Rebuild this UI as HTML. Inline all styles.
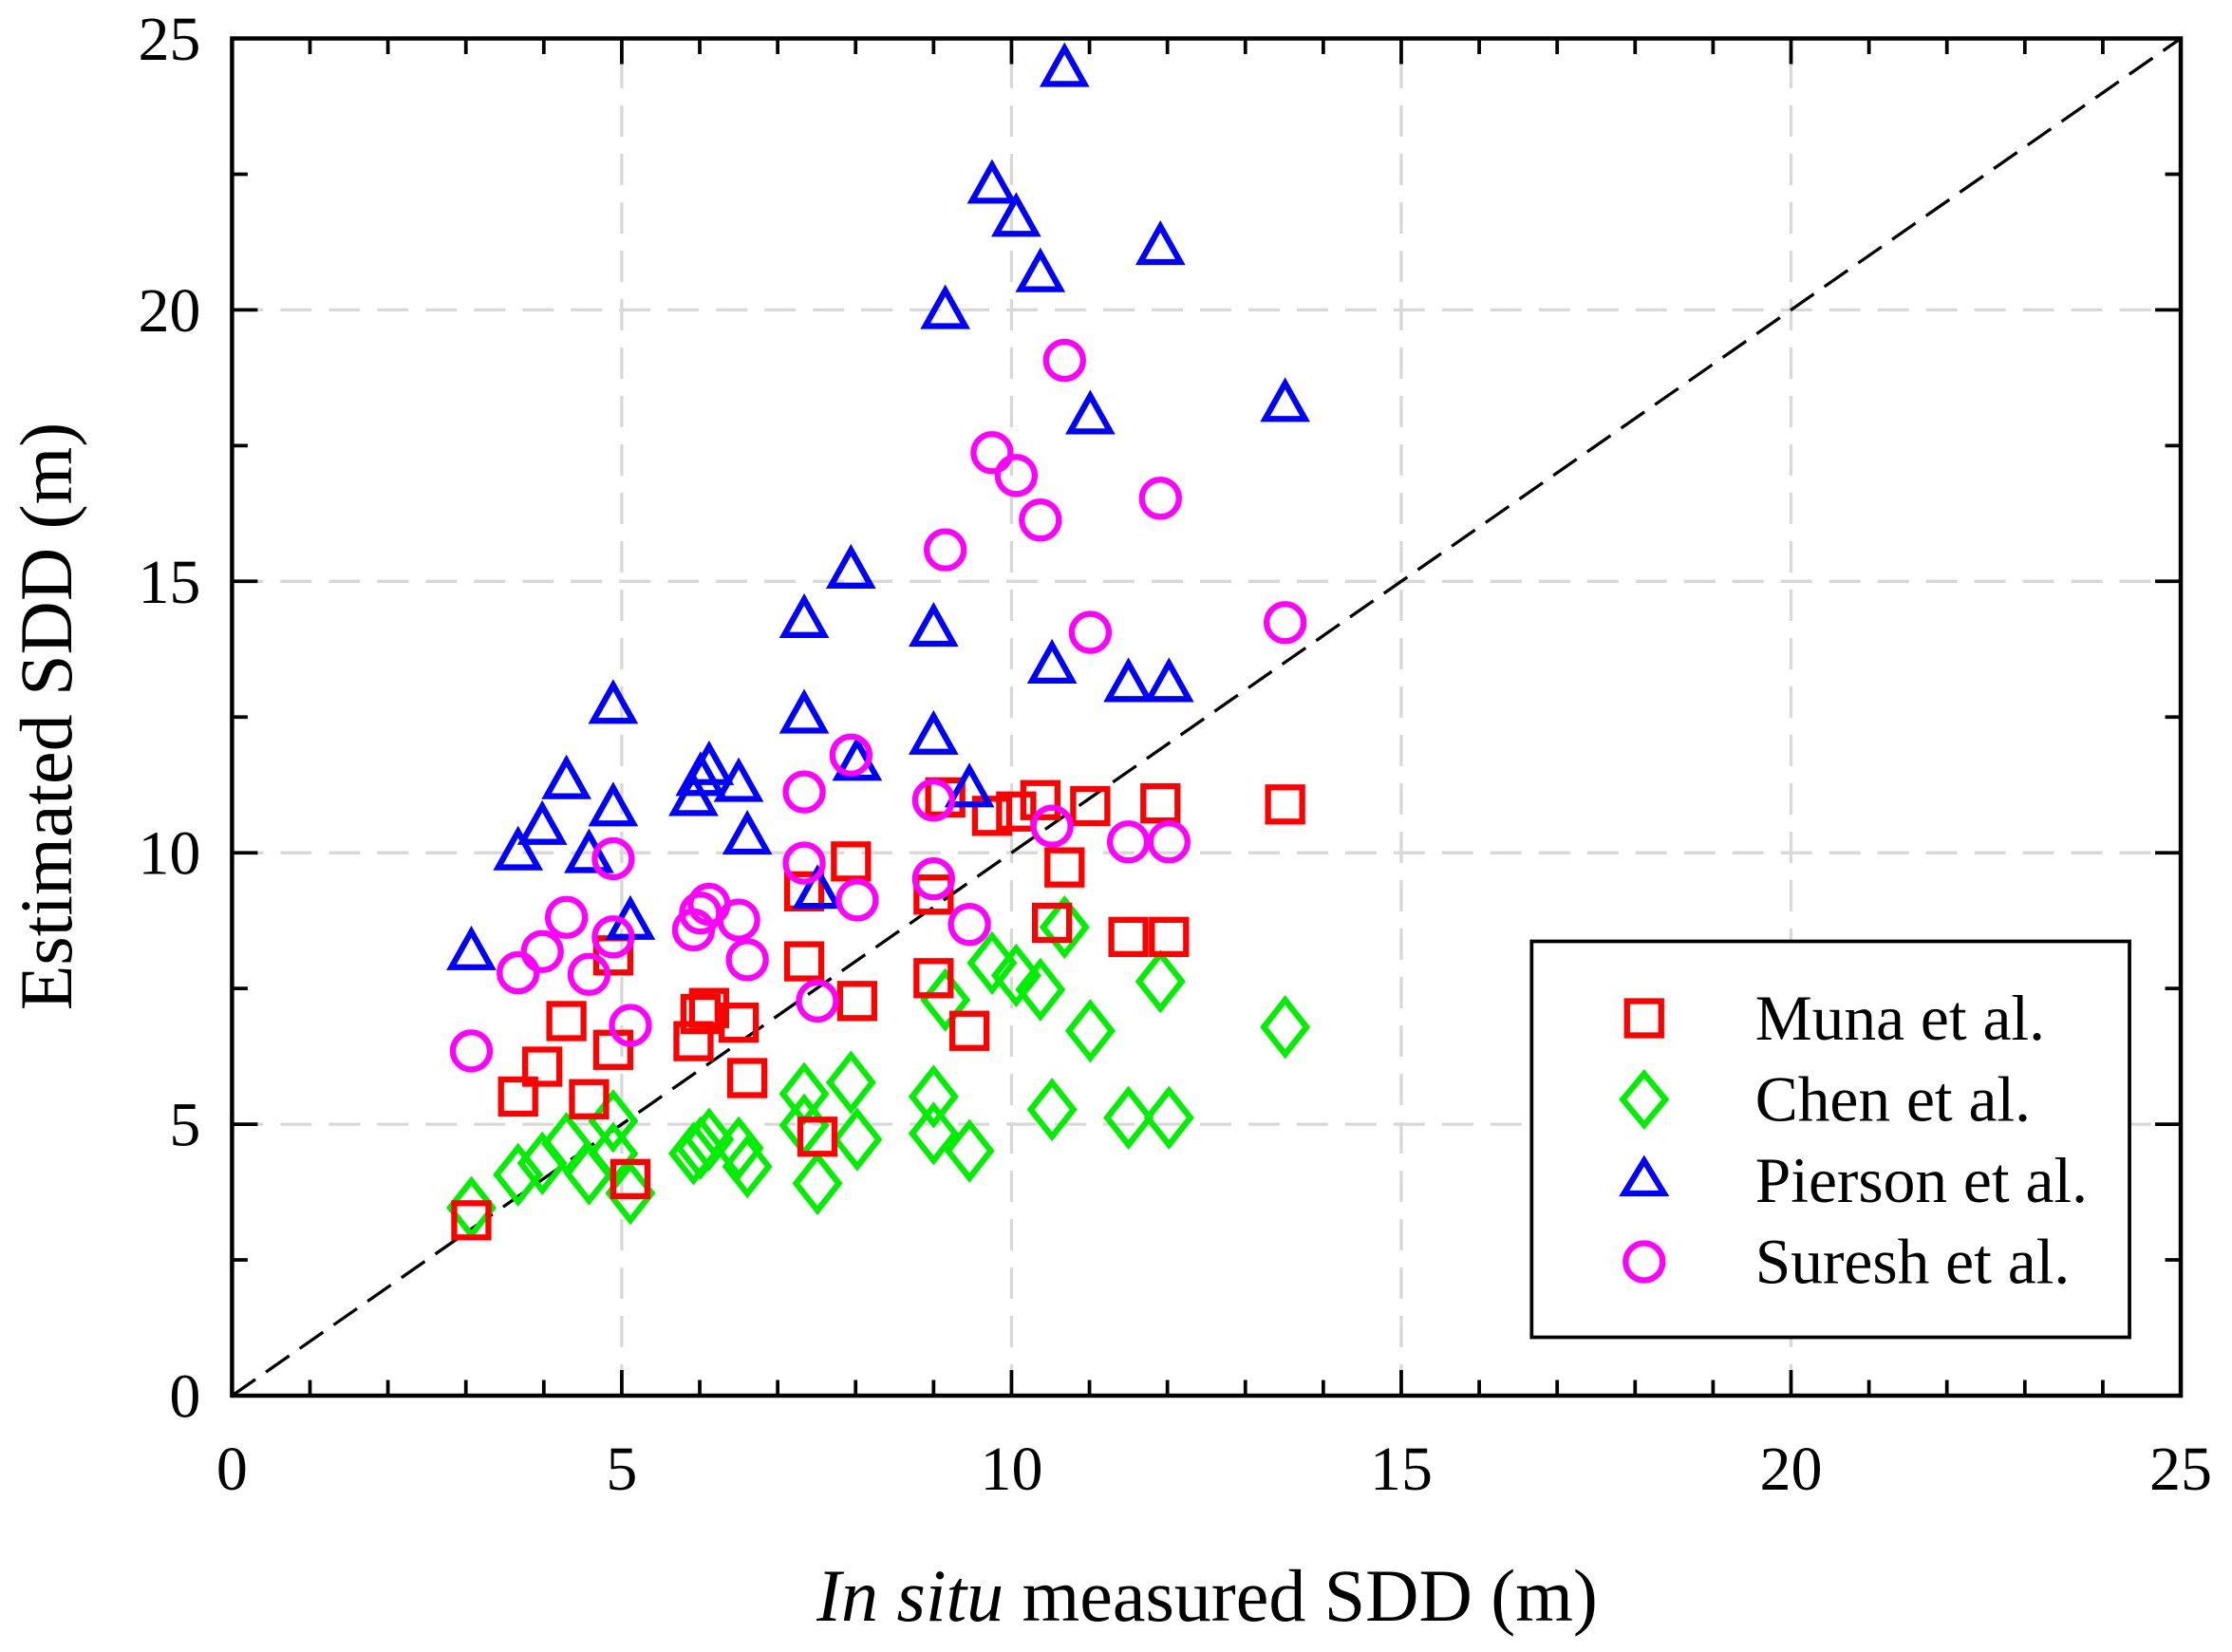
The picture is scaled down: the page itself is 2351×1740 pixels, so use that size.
<!DOCTYPE html>
<html><head><meta charset="utf-8"><style>
html,body{margin:0;padding:0;background:#fff;}
svg{display:block;font-family:"Liberation Serif",serif;}
</style></head><body>
<svg id="chart" width="2351" height="1740" viewBox="0 0 1568 1160" preserveAspectRatio="none" xmlns="http://www.w3.org/2000/svg">
<g id="grid"></g>
<line x1="163" y1="980" x2="1532" y2="27" stroke="#000" stroke-width="2.2" stroke-dasharray="20,9"/>
<g id="marks"></g>
<rect x="163" y="27" width="1369" height="953" fill="none" stroke="#000" stroke-width="3"/>
<g id="ticks"></g>
<text x="848" y="1138" font-size="52" text-anchor="middle"><tspan font-style="italic">In situ</tspan> measured SDD (m)</text>
<text transform="translate(50,503) rotate(-90)" font-size="52" text-anchor="middle">Estimated SDD (m)</text>
<g>
<rect x="1076" y="661" width="420" height="278" fill="#fff" stroke="#000" stroke-width="2.5"/>
<rect x="1143" y="703" width="24" height="24" fill="none" stroke="#ff0000" stroke-width="4.2"/>
<text x="1233" y="730" font-size="45">Muna et al.</text>
<polygon points="1155,754 1170,772 1155,790 1140,772" fill="none" stroke="#00ee00" stroke-width="4.2"/>
<text x="1233" y="787" font-size="45">Chen et al.</text>
<polygon points="1155,815 1169,838 1141,838" fill="none" stroke="#0000ff" stroke-width="4.2"/>
<text x="1233" y="844" font-size="45">Pierson et al.</text>
<circle cx="1155" cy="886" r="13" fill="none" stroke="#ff00ff" stroke-width="4.2"/>
<text x="1233" y="901" font-size="45">Suresh et al.</text>
</g>
</svg>
<script>
const xTicks = [0, 5, 10, 15, 20, 25];
const yTicks = [0, 5, 10, 15, 20, 25];
const xMeasured = [3.07,3.67,3.98,4.29,4.58,4.89,4.89,5.11,5.92,6.01,6.12,6.50,6.61,7.34,7.34,7.51,7.94,8.02,9.00,9.00,9.15,9.46,9.75,10.06,10.37,10.52,10.68,11.01,11.50,11.91,12.02,13.51];
const xMuna = [3.07,3.67,3.98,4.29,4.58,4.89,4.89,5.11,5.92,6.01,6.12,6.50,6.61,7.34,7.34,7.51,7.94,8.02,9.00,9.00,9.15,9.46,9.75,10.06,10.37,10.52,10.68,11.01,11.50,11.91,12.02,13.51];
const yMuna = [3.23,5.51,6.06,6.90,5.46,6.37,8.11,3.99,6.53,7.03,7.14,6.87,5.85,8.00,9.29,4.77,9.84,7.27,7.69,9.23,11.02,6.72,10.68,10.76,10.97,8.71,9.73,10.86,8.45,10.91,8.45,10.89];
const yChen = [3.46,4.07,4.28,4.64,4.09,5.06,4.46,3.73,4.46,4.56,4.72,4.56,4.22,5.56,4.98,3.91,5.77,4.72,5.51,4.83,7.29,4.51,7.97,7.74,7.48,5.27,8.63,6.72,5.12,7.63,5.12,6.79];
const yPierson = [8.18,10.02,10.49,11.33,9.97,10.83,12.72,8.74,11.02,11.39,11.59,11.28,10.31,14.30,12.54,9.31,15.21,11.67,14.14,12.15,19.99,11.18,22.30,21.69,20.67,13.46,24.45,18.05,13.12,21.17,13.12,18.28];
const ySuresh = [6.35,7.79,8.18,8.81,7.76,9.89,8.45,6.82,8.58,8.89,9.05,8.76,8.03,11.12,9.81,7.27,11.80,9.13,10.97,9.52,15.58,8.68,17.37,16.95,16.13,10.49,19.07,14.06,10.20,16.53,10.20,14.24];

const NS = "http://www.w3.org/2000/svg";
const X0 = 163, X1 = 1532, Y0 = 980, Y1 = 27;
const sx = v => X0 + (X1 - X0) * v / 25;
const sy = v => Y0 - (Y0 - Y1) * v / 25;
function mk(tag, attrs, parent) {
  const e = document.createElementNS(NS, tag);
  for (const k in attrs) e.setAttribute(k, attrs[k]);
  parent.appendChild(e);
  return e;
}
const grid = document.getElementById('grid');
const ticks = document.getElementById('ticks');
const marks = document.getElementById('marks');

xTicks.forEach(t => {
  if (t > 0 && t < 25) {
    const g = mk('line', {x1: sx(t), x2: sx(t), y1: Y0, y2: Y1, stroke: '#d8d8d8', 'stroke-width': 2.2, 'stroke-dasharray': '22,12'}, grid);
    
    
  }
  const lb = mk('text', {x: sx(t), y: 1046, 'font-size': 44, 'text-anchor': 'middle'}, ticks);
  lb.textContent = t;
  
  
});
yTicks.forEach(t => {
  if (t > 0 && t < 25) {
    const g = mk('line', {x1: X0, x2: X1, y1: sy(t), y2: sy(t), stroke: '#d8d8d8', 'stroke-width': 2.2, 'stroke-dasharray': '22,12'}, grid);
    
    
  }
  const lb = mk('text', {x: 141, y: sy(t) + 15, 'font-size': 44, 'text-anchor': 'end'}, ticks);
  lb.textContent = t;
  
  
});
for (let i = 0; i <= 25; i++) {
  const len = (i % 5 === 0) ? 18 : 11;
  [[sx(i), Y0, sx(i), Y0 - len], [sx(i), Y1, sx(i), Y1 + len]].forEach(c => {
    const l = mk('line', {x1: c[0], y1: c[1], x2: c[2], y2: c[3], stroke: '#000', 'stroke-width': 2.5}, ticks);
    
    
  });
}
for (let i = 0; i <= 25; i += 2.5) {
  const len = (i % 5 === 0) ? 18 : 11;
  [[X0, sy(i), X0 + len, sy(i)], [X1, sy(i), X1 - len, sy(i)]].forEach(c => {
    const l = mk('line', {x1: c[0], y1: c[1], x2: c[2], y2: c[3], stroke: '#000', 'stroke-width': 2.5}, ticks);
    
    
  });
}
const SW = 4.2;
yChen.forEach((v, i) => {
  const cx = sx(xMeasured[i]), cy = sy(v);
  const p = mk('polygon', {points: `${cx},${cy-19} ${cx+15},${cy} ${cx},${cy+19} ${cx-15},${cy}`, fill: 'none', stroke: '#00ee00', 'stroke-width': SW}, marks);
  
  
});
yMuna.forEach((v, i) => {
  const cx = sx(xMuna[i]), cy = sy(v);
  const r = mk('rect', {x: cx - 12, y: cy - 12, width: 24, height: 24, fill: 'none', stroke: '#ff0000', 'stroke-width': SW}, marks);
  
  
});
yPierson.forEach((v, i) => {
  const cx = sx(xMeasured[i]), cy = sy(v);
  const p = mk('polygon', {points: `${cx},${cy-14} ${cx+14},${cy+11} ${cx-14},${cy+11}`, fill: 'none', stroke: '#0000ff', 'stroke-width': SW}, marks);
  
  
});
ySuresh.forEach((v, i) => {
  const c = mk('circle', {cx: sx(xMeasured[i]), cy: sy(v), r: 13, fill: 'none', stroke: '#ff00ff', 'stroke-width': SW}, marks);
  
  
});
</script>
</body></html>
